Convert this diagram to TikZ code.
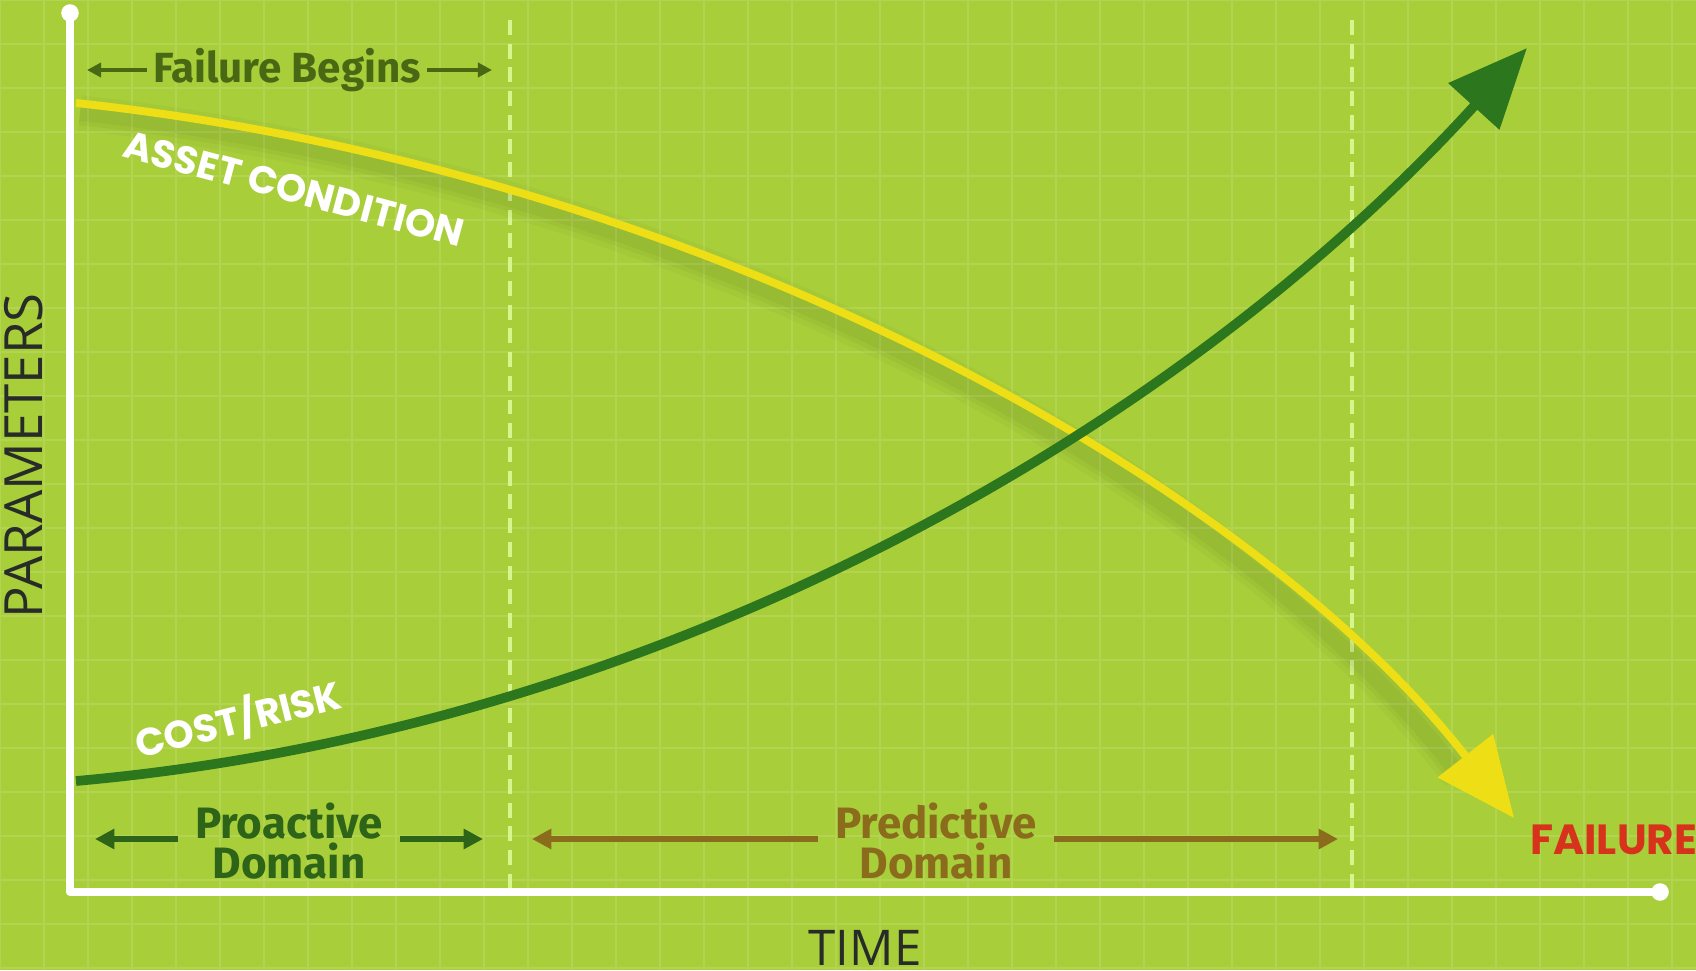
\documentclass[tikz,border=0pt]{standalone}
\usepackage{fontspec}
\setmainfont{Fira Sans}
\newfontfamily\capsfont{Poppins}
\newfontfamily\axisfont{Open Sans}
\usepackage{tikz}
\usetikzlibrary{arrows.meta}
\usetikzlibrary{positioning}
\definecolor{bggreen}{RGB}{168,206,58}
\definecolor{dashgreen}{RGB}{214,245,140}
\definecolor{condyellow}{RGB}{238,222,22}
\definecolor{riskgreen}{RGB}{44,118,30}
\definecolor{begintext}{RGB}{72,104,20}
\definecolor{protext}{RGB}{46,100,24}
\definecolor{predtext}{RGB}{138,108,28}
\definecolor{failred}{RGB}{214,50,28}
\definecolor{axistext}{RGB}{40,44,40}
\tikzstyle{axisline} = [line width=4.5pt, white, line join=round]
\tikzstyle{divider} = [line width=2.5pt, dashgreen, dash pattern=on 8.5pt off 5pt]
\tikzstyle{curvelabel} = [white, font=\capsfont\bfseries\fontsize{22}{22}\selectfont]
\tikzstyle{domtext} = [font=\bfseries\fontsize{25}{23}\selectfont, align=center]
\tikzstyle{domarrow} = [line width=3pt, shorten <=6pt, -{Triangle[length=11pt,width=11pt]}]
\tikzstyle{beginarrow} = [line width=2pt, begintext, -{Triangle[length=8pt,width=8pt]}]

\begin{document}
\begin{tikzpicture}[x=0.02cm, y=-0.02cm]

    \fill[bggreen] (0,0) rectangle (1696,970);
    \useasboundingbox (0,0) rectangle (1696,970);
    \draw[white, opacity=0.13, line width=1pt, step=0.88cm] (0,0) grid (1696,970);

    % axes and domain borders
    \coordinate (origin) at (70,892);
    \coordinate (ytop) at (70,13);
    \coordinate (xend) at (1660,892);
    \draw[divider] (510,20) -- (510,888);
    \draw[divider] (1352,20) -- (1352,888);
    \draw[axisline] (ytop) -- (origin) -- (xend);
    \fill[white] (ytop) circle (5pt);
    \fill[white] (xend) circle (5pt);

    % curves
    \coordinate (condStart) at (76,103);
    \coordinate (condEnd) at (1514,818);
    \coordinate (riskStart) at (76,781);
    \coordinate (riskEnd) at (1527,48);
    \foreach \w/\o in {20/0.025, 14/0.03, 9/0.035}
        \draw[black, opacity=\o, line width=\w pt] (80,113) .. controls (700,180) and (1245,488) .. (1460,776);
    \draw[condyellow, line width=4.5pt, -{Triangle[length=45pt,width=39pt]}]
        (condStart) .. controls (700,170) and (1250,480) .. (condEnd);
    \draw[riskgreen, line width=5.5pt, -{Triangle[length=45pt,width=38pt]}]
        (riskStart) .. controls (650,730) and (1170,440) .. (riskEnd);

    \node[curvelabel, rotate=-15] (assetlabel) at (294,189) {ASSET CONDITION};
    \node[curvelabel, rotate=14] (risklabel) at (238,719) {COST/RISK};

    % labels
    \node[font=\bfseries\fontsize{24}{24}\selectfont, text=begintext] (begins) at (287,70) {Failure Begins};
    \coordinate (beginsL) at (87,70);
    \coordinate (beginsR) at (492,70);
    \draw[beginarrow] (begins.west) -- (beginsL);
    \draw[beginarrow] (begins.east) -- (beginsR);

    \node[domtext, text=protext] (proactive) at (289,841) {Proactive\\Domain};
    \coordinate (proL) at (95,839);
    \coordinate (proR) at (483,839);
    \draw[domarrow, protext] (proactive.west |- proL) -- (proL);
    \draw[domarrow, protext] (proactive.east |- proR) -- (proR);

    \node[domtext, text=predtext] (predictive) at (936,841) {Predictive\\Domain};
    \coordinate (predL) at (532,839);
    \coordinate (predR) at (1338,839);
    \draw[domarrow, predtext] (predictive.west |- predL) -- (predL);
    \draw[domarrow, predtext] (predictive.east |- predR) -- (predR);

    \node[font=\capsfont\bfseries\fontsize{24}{24}\selectfont, text=failred, anchor=west, inner sep=0pt] (failure) at (1530,840) {FAILURE};
    \node[font=\axisfont\fontsize{28}{28}\selectfont, text=axistext] (time) at (865,948) {TIME};
    \node[font=\axisfont\fontsize{30}{30}\selectfont, text=axistext, rotate=90] (params) at (24,456) {PARAMETERS};

\end{tikzpicture}
\end{document}
